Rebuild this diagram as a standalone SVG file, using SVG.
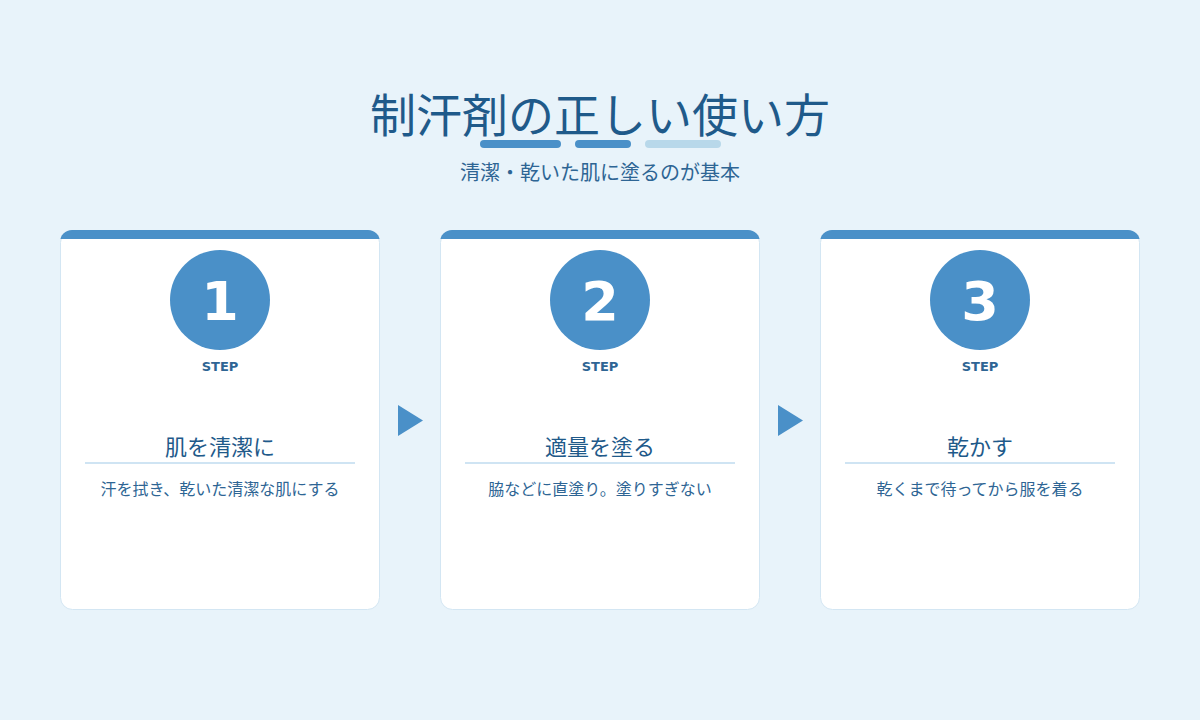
<svg xmlns="http://www.w3.org/2000/svg" width="1200" height="720" viewBox="0 0 1200 720">
<defs>
<style>
text{font-family:"DejaVu Sans","Noto Sans CJK JP",sans-serif;text-anchor:middle}
.card{fill:#fff;stroke:#d3e6f3;stroke-width:1}
.bar{fill:#4a90c8}
.circ{fill:#4a90c8}
.num{fill:#fff;font-size:54px;font-weight:bold}
.step{fill:#2e6594;font-size:13px;font-weight:bold}
.ttl{fill:#1f5a8a;font-size:22px}
.rule{stroke:#cfe4f3;stroke-width:2}
.desc{fill:#2e6594;font-size:16px}
.arr{fill:#4a90c8}
</style>
<clipPath id="c1"><rect x="60" y="230" width="320" height="380" rx="12"/></clipPath>
<clipPath id="c2"><rect x="440" y="230" width="320" height="380" rx="12"/></clipPath>
<clipPath id="c3"><rect x="820" y="230" width="320" height="380" rx="12"/></clipPath>
</defs>
<rect width="1200" height="720" fill="#e8f3fa"/>
<g id="header">
<text x="600" y="132" font-size="46" fill="#1f5a8a">制汗剤の正しい使い方</text>
<g stroke-linecap="round" stroke-width="8">
<line x1="484" y1="144" x2="557" y2="144" stroke="#4a90c8"/>
<line x1="579" y1="144" x2="627" y2="144" stroke="#4a90c8"/>
<line x1="649" y1="144" x2="717" y2="144" stroke="#b8d8ea"/>
</g>
<text x="600" y="180" font-size="20" fill="#2e6594">清潔・乾いた肌に塗るのが基本</text>
</g>
<g id="step1">
<rect class="card" x="60.5" y="230.5" width="319" height="379" rx="12"/>
<rect class="bar" x="60" y="230" width="320" height="9" clip-path="url(#c1)"/>
<circle class="circ" cx="220" cy="300" r="50"/>
<text class="num" x="220" y="320">1</text>
<text class="step" x="220" y="371">STEP</text>
<text class="ttl" x="220" y="455">肌を清潔に</text>
<line class="rule" x1="85" y1="463" x2="355" y2="463"/>
<text class="desc" x="220" y="495">汗を拭き、乾いた清潔な肌にする</text>
</g>
<g id="step2">
<rect class="card" x="440.5" y="230.5" width="319" height="379" rx="12"/>
<rect class="bar" x="440" y="230" width="320" height="9" clip-path="url(#c2)"/>
<circle class="circ" cx="600" cy="300" r="50"/>
<text class="num" x="600" y="320">2</text>
<text class="step" x="600" y="371">STEP</text>
<text class="ttl" x="600" y="455">適量を塗る</text>
<line class="rule" x1="465" y1="463" x2="735" y2="463"/>
<text class="desc" x="600" y="495">脇などに直塗り。塗りすぎない</text>
</g>
<g id="step3">
<rect class="card" x="820.5" y="230.5" width="319" height="379" rx="12"/>
<rect class="bar" x="820" y="230" width="320" height="9" clip-path="url(#c3)"/>
<circle class="circ" cx="980" cy="300" r="50"/>
<text class="num" x="980" y="320">3</text>
<text class="step" x="980" y="371">STEP</text>
<text class="ttl" x="980" y="455">乾かす</text>
<line class="rule" x1="845" y1="463" x2="1115" y2="463"/>
<text class="desc" x="980" y="495">乾くまで待ってから服を着る</text>
</g>
<g id="connectors">
<polygon class="arr" points="398,405 423,420.5 398,436"/>
<polygon class="arr" points="778,405 803,420.5 778,436"/>
</g>
</svg>
